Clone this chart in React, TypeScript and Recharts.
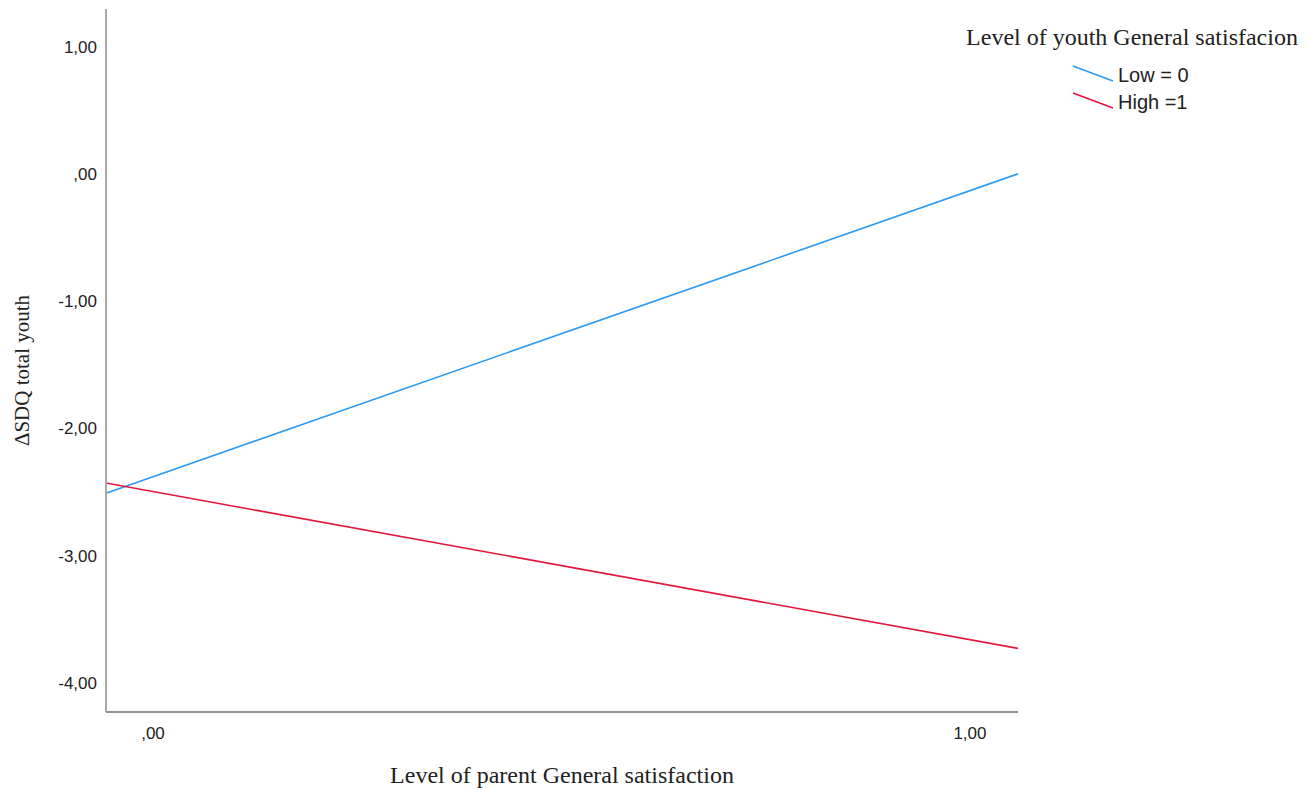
import React from 'react';
import { LineChart, Line, XAxis, YAxis, Legend, Label } from 'recharts';

// x positions where the fitted lines start/end (axis range edges)
const xPoints = [-0.0575, 1.0588];
const lowSeries = [-2.51, 0.0];
const highSeries = [-2.43, -3.73];
const seriesNames = ['Low = 0', 'High =1'];
const xTicks = [0, 1];
const yTicks = [-4, -3, -2, -1, 0, 1];
const legendTitle = 'Level of youth General satisfacion';
const xTitle = 'Level of parent General satisfaction';
const yTitle = 'ΔSDQ total youth';

const SERIF = '"Liberation Serif", "Times New Roman", serif';
const SANS = '"Liberation Sans", Arial, sans-serif';

const data = xPoints.map((x, i) => ({ x, low: lowSeries[i], high: highSeries[i] }));

// SPSS style: 0 -> ",00", 1 -> "1,00", -2 -> "-2,00"
const fmt = (v: number) => {
  const s = Math.abs(v).toFixed(2).replace('.', ',');
  const t = s.startsWith('0') ? s.slice(1) : s;
  return v < 0 ? '-' + t : t;
};

const LegendBox = ({ payload }: any) => {
  const items = [...(payload || [])].sort(
    (a: any, b: any) => seriesNames.indexOf(a.value) - seriesNames.indexOf(b.value)
  );
  return (
    <svg width={369} height={110}>
      <text x={192} y={25} textAnchor="middle" fontFamily={SERIF} fontSize={24} fill="#222">
        {legendTitle}
      </text>
      {items.map((p: any, i: number) => (
        <g key={i}>
          <line x1={133} y1={46 + i * 27} x2={173} y2={61 + i * 27} stroke={p.color} strokeWidth={1.6} />
          <text x={178} y={62 + i * 27} fontFamily={SANS} fontSize={20} fill="#222">
            {p.value}
          </text>
        </g>
      ))}
    </svg>
  );
};

export default function App() {
  return (
    <div style={{ position: 'absolute', left: 0, top: 0, background: '#fff' }}>
      <LineChart width={1309} height={790} data={data} margin={{ top: 9, right: 291, bottom: 0, left: 0 }}>
        <XAxis
          dataKey="x"
          type="number"
          domain={[xPoints[0], xPoints[1]]}
          ticks={xTicks}
          tickFormatter={fmt}
          height={78}
          tickLine={false}
          tickSize={0}
          tickMargin={15}
          axisLine={{ stroke: '#6b6b6b', strokeWidth: 1.5 }}
          tick={{ fill: '#222', fontSize: 17, fontFamily: SANS }}
        >
          <Label
            content={({ viewBox }: any) => (
              <text
                x={viewBox.x + viewBox.width / 2}
                y={viewBox.y + viewBox.height - 7}
                textAnchor="middle"
                fontFamily={SERIF}
                fontSize={24}
                fill="#222"
              >
                {xTitle}
              </text>
            )}
          />
        </XAxis>
        <YAxis
          type="number"
          domain={[-4.23, 1.296]}
          ticks={yTicks}
          tickFormatter={fmt}
          width={106}
          tickLine={false}
          tickSize={0}
          tickMargin={9}
          axisLine={{ stroke: '#a8a8a8', strokeWidth: 2 }}
          tick={{ fill: '#222', fontSize: 17, fontFamily: SANS }}
        >
          <Label
            content={({ viewBox }: any) => {
              const cx = viewBox.x + 29;
              const cy = viewBox.y + viewBox.height / 2 + 10;
              return (
                <text
                  x={cx}
                  y={cy}
                  transform={`rotate(-90, ${cx}, ${cy})`}
                  textAnchor="middle"
                  fontFamily={SERIF}
                  fontSize={21}
                  fill="#222"
                >
                  {yTitle}
                </text>
              );
            }}
          />
        </YAxis>
        <Legend
          layout="vertical"
          align="center"
          verticalAlign="middle"
          content={<LegendBox />}
          wrapperStyle={{ position: 'absolute', left: 940, top: 20, width: 369, height: 110 }}
        />
        <Line
          name={seriesNames[0]}
          dataKey="low"
          type="linear"
          stroke="#2b9af3"
          strokeWidth={1.6}
          dot={false}
          isAnimationActive={false}
        />
        <Line
          name={seriesNames[1]}
          dataKey="high"
          type="linear"
          stroke="#e3173e"
          strokeWidth={1.6}
          dot={false}
          isAnimationActive={false}
        />
      </LineChart>
    </div>
  );
}
